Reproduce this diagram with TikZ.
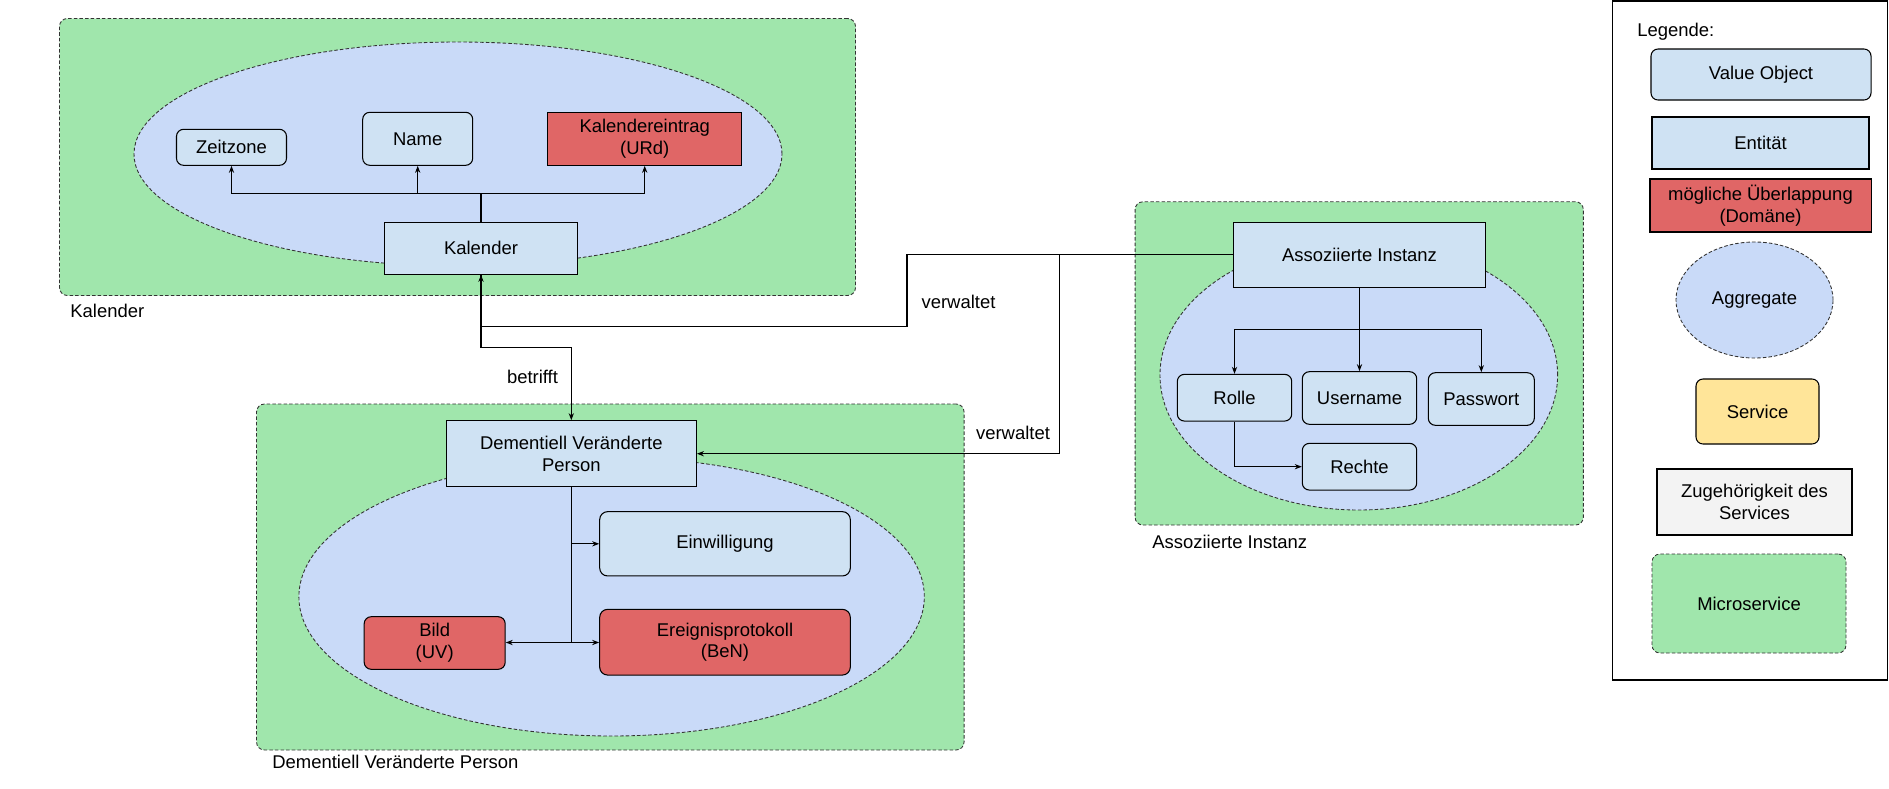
\documentclass[tikz,border=0pt]{standalone}
\usepackage{fontspec}
\setmainfont{Liberation Sans}
\usepackage{tikz}
\usetikzlibrary{shapes,arrows.meta}
\definecolor{msgreen}{RGB}{160,230,172}
\definecolor{agblue}{RGB}{201,218,248}
\definecolor{entblue}{RGB}{207,226,243}
\definecolor{ovred}{RGB}{224,102,102}
\definecolor{svyellow}{RGB}{255,229,153}
\definecolor{svgrey}{RGB}{243,243,243}
\tikzset{>={Stealth[length=4pt,width=3pt]},x=0.02cm,y=-0.02cm,
  every node/.style={font=\fontsize{10.5}{12.5}\selectfont,inner sep=0pt,align=center},
  box size/.style 2 args={minimum width=#1*0.02cm,minimum height=#2*0.02cm},
  microservice/.style={draw=black!80,fill=msgreen,dash pattern=on 2pt off 1.2pt,rounded corners=4.5pt,line width=0.5pt},
  aggregate/.style={ellipse,draw=black!80,fill=agblue,dash pattern=on 2pt off 1.2pt,line width=0.5pt},
  entity/.style={draw,fill=entblue,line width=0.6pt},
  valueobj/.style={entity,rounded corners=4pt},
  overlap/.style={draw,fill=ovred,line width=0.6pt},
  service/.style={draw,fill=svyellow,rounded corners=4pt,line width=0.6pt},
  belongs/.style={draw,fill=svgrey,line width=0.6pt},
  caption/.style={anchor=west},
  conn/.style={line width=0.6pt}
}
\begin{document}
\begin{tikzpicture}
    \useasboundingbox (0,0) rectangle (1889,788);
    % Microservice Kalender
    \node[microservice,box size={796}{277}] (msKal) at (457.5,157) {};
    \node[caption] (capKal) at (70,311) {Kalender};
    \node[aggregate,box size={648}{224}] (aggKal) at (458,154) {};
    \node[valueobj,box size={110}{36}] (zeitzone) at (231.5,147.3) {Zeitzone};
    \node[valueobj,box size={110}{53}] (name) at (417.7,138.8) {Name};
    \node[overlap,box size={193.5}{53}] (kaleintrag) at (644.7,138.8) {Kalendereintrag\\(URd)};
    \node[entity,box size={192.5}{52}] (kalender) at (481,248.3) {Kalender};
    \coordinate (kalHub) at (481,193.3);
    \draw[conn] (kalender) -- (kalHub);
    \draw[conn,->] (kalHub) -| (zeitzone);
    \draw[conn,->] (kalHub) -| (name);
    \draw[conn,->] (kalHub) -| (kaleintrag);

    % Microservice Dementiell Veraenderte Person
    \node[microservice,box size={707.5}{346}] (msDvp) at (610.3,577) {};
    \node[caption] (capDvp) at (272,762) {Dementiell Veränderte Person};
    \node[aggregate,box size={625.4}{278.6}] (aggDvp) at (611.6,596.7) {};
    \node[entity,box size={250.2}{66}] (dvp) at (571.3,453.7) {Dementiell Veränderte\\Person};
    \node[valueobj,rounded corners=4.5pt,box size={250.6}{64.3}] (einwilligung) at (725,543.8) {Einwilligung};
    \node[overlap,rounded corners=4.5pt,box size={250.6}{65.7}] (ereignis) at (725,642.2) {Ereignisprotokoll\\(BeN)};
    \node[overlap,rounded corners=4pt,box size={141}{52.6}] (bild) at (434.7,643) {Bild\\(UV)};
    \coordinate (dvpHub) at (571.3,642.5);
    \draw[conn] (dvp) -- (dvpHub);
    \draw[conn,->] (dvp.south |- einwilligung.west) -- (einwilligung.west);
    \draw[conn,->] (dvpHub) -- (bild.east |- dvpHub);
    \draw[conn,->] (dvpHub) -- (ereignis.west |- dvpHub);

    % Microservice Assoziierte Instanz
    \node[microservice,box size={448.3}{323.3}] (msAssoz) at (1359.2,363.4) {};
    \node[caption] (capAssoz) at (1152,541.7) {Assoziierte Instanz};
    \node[aggregate,box size={397.6}{270}] (aggAssoz) at (1358.8,375) {};
    \node[entity,box size={251.4}{65}] (assoz) at (1359.5,254.8) {Assoziierte Instanz};
    \node[valueobj,box size={114.4}{46.7}] (rolle) at (1234.5,397.7) {Rolle};
    \node[valueobj,box size={114.4}{52.6}] (username) at (1359.5,398) {Username};
    \node[valueobj,box size={106}{52.6}] (passwort) at (1481.3,399) {Passwort};
    \node[valueobj,box size={114.4}{46.7}] (rechte) at (1359.5,466.7) {Rechte};
    \coordinate (assozHub) at (1359.5,329.3);
    \draw[conn] (assoz) -- (assozHub);
    \draw[conn,->] (assozHub) -| (rolle);
    \draw[conn,->] (assozHub) -- (username);
    \draw[conn,->] (assozHub) -| (passwort);
    \draw[conn,->] (rolle) |- (rechte);

    % Beziehungen zwischen den Services
    \coordinate (split) at (1059.6,254.8);
    \draw[conn,->] (assoz.west) -| (907,326.7) -| (kalender.south);
    \draw[conn,->] (split) |- (dvp.east);
    \draw[conn,->] (kalender.south) -- ++(0,73) -| (dvp.north);
    \node (verw1) at (958.5,301.7) {verwaltet};
    \node (verw2) at (1013,433.3) {verwaltet};
    \node (betrifft) at (532.5,376.7) {betrifft};

    % Legende
    \node[draw,line width=0.6pt,box size={275.5}{679}] (legend) at (1749.8,340.5) {};
    \node[caption] (legTitle) at (1637,32) {Legende:};
    \node[valueobj,box size={220}{51}] (legValue) at (1761,74.5) {Value Object};
    \node[entity,box size={217}{52}] (legEntity) at (1760.5,143) {Entität};
    \node[overlap,box size={221}{53}] (legOverlap) at (1760.5,205.5) {mögliche Überlappung\\(Domäne)};
    \node[aggregate,box size={157}{116}] (legAggregate) at (1754.5,300) {Aggregate};
    \node[service,box size={123}{65}] (legService) at (1757.5,411.5) {Service};
    \node[belongs,box size={195}{66}] (legBelongs) at (1754.5,502) {Zugehörigkeit des\\Services};
    \node[microservice,box size={194}{99}] (legMicro) at (1749,603.5) {Microservice};
\end{tikzpicture}
\end{document}
